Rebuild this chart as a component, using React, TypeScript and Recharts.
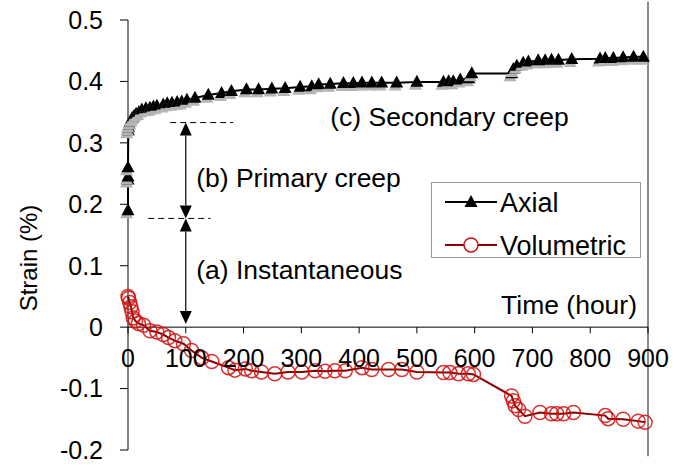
import React from "react";
import { LineChart, Line, XAxis, YAxis, ReferenceLine, ReferenceDot, Legend } from "recharts";

const FONT = '"Liberation Sans", Arial, sans-serif';

// axial strain (%) vs time (hour)
const axialTime = [
  0, 0, 0, 0, 0.5, 1, 2, 4, 7, 10, 14, 19, 24, 31, 38, 44, 50, 61, 68, 76, 85, 93,
  102, 116, 139, 162, 179, 205, 226, 249, 272, 298, 318, 330, 350, 373, 390, 405,
  422, 439, 465, 500, 546, 555, 563, 575, 590, 595, 664, 667, 673, 684, 693, 710,
  722, 733, 745, 768, 817, 826, 840, 857, 875, 892,
];
const axialStrain = [
  0.19, 0.24, 0.245, 0.26, 0.32, 0.325, 0.33, 0.335, 0.34, 0.343, 0.347, 0.35,
  0.354, 0.356, 0.357, 0.359, 0.36, 0.362, 0.364, 0.365, 0.366, 0.367, 0.37, 0.373,
  0.378, 0.381, 0.384, 0.387, 0.387, 0.388, 0.389, 0.391, 0.392, 0.395, 0.396,
  0.397, 0.397, 0.398, 0.398, 0.398, 0.398, 0.399, 0.399, 0.4, 0.4, 0.403, 0.405,
  0.413, 0.413, 0.42, 0.425, 0.43, 0.432, 0.434, 0.434, 0.435, 0.435, 0.436, 0.437,
  0.438, 0.438, 0.439, 0.44, 0.44,
];

// volumetric strain (%) vs time (hour)
const volTime = [
  0, 1, 3, 5, 7, 9, 13, 18, 27, 38, 50, 61, 70, 81, 96, 110, 128, 145, 174, 185,
  203, 214, 231, 254, 277, 301, 324, 341, 358, 376, 405, 422, 451, 474, 500, 546,
  557, 572, 589, 598, 664, 667, 670, 676, 687, 713, 733, 742, 754, 771, 826, 831,
  857, 883, 895,
];
const volStrain = [
  0.05, 0.047, 0.04, 0.033, 0.025, 0.015, 0.01, 0.006, 0.003, -0.006, -0.008,
  -0.012, -0.017, -0.022, -0.027, -0.038, -0.05, -0.056, -0.066, -0.07, -0.068,
  -0.071, -0.073, -0.076, -0.073, -0.073, -0.071, -0.072, -0.071, -0.071, -0.066,
  -0.069, -0.069, -0.069, -0.073, -0.074, -0.074, -0.076, -0.076, -0.077, -0.112,
  -0.12, -0.128, -0.134, -0.145, -0.139, -0.141, -0.141, -0.141, -0.139, -0.144,
  -0.149, -0.15, -0.153, -0.155,
];

const timeTicks = [0, 100, 200, 300, 400, 500, 600, 700, 800, 900];
const strainTicks = [-0.2, -0.1, 0, 0.1, 0.2, 0.3, 0.4, 0.5];

// annotation levels
const arrowTime = 100;
const primaryTop = 0.333;
const primaryBottom = 0.177;
const upperDash = [73, 182];
const lowerDash = [35, 143];

const axialData = axialTime.map((t, i) => ({ t, v: axialStrain[i] }));
const volData = volTime.map((t, i) => ({ t, v: volStrain[i] }));

function Triangle(p: any) {
  const { cx, cy } = p;
  if (cx == null || cy == null) return null;
  const w = 6.5, h = 12;
  const pts = (dx: number, dy: number) =>
    `${cx + dx},${cy - h * 0.6 + dy} ${cx - w + dx},${cy + h * 0.4 + dy} ${cx + w + dx},${cy + h * 0.4 + dy}`;
  return (
    <g>
      <polygon points={pts(-1.5, 3)} fill="#b4b4b4" />
      <polygon points={pts(0, 0)} fill="#000" />
    </g>
  );
}

function Circle(p: any) {
  const { cx, cy } = p;
  if (cx == null || cy == null) return null;
  return <circle cx={cx} cy={cy} r={7} fill="none" stroke="#d01010" strokeWidth={1.5} strokeOpacity={0.85} />;
}

function DoubleArrow(p: any) {
  const { x1, y1, y2 } = p;
  const top = Math.min(y1, y2);
  const bot = Math.max(y1, y2);
  const h = 13, w = 6;
  return (
    <g>
      <line x1={x1} y1={top + h} x2={x1} y2={bot - h} stroke="#000" strokeWidth={1.2} />
      <polygon points={`${x1},${top} ${x1 - w},${top + h} ${x1 + w},${top + h}`} fill="#000" />
      <polygon points={`${x1},${bot} ${x1 - w},${bot - h} ${x1 + w},${bot - h}`} fill="#000" />
    </g>
  );
}

function LegendBox() {
  return (
    <svg width={210} height={84} style={{ display: "block", fontFamily: FONT, overflow: "visible" }}>
      <rect x={0.5} y={0.5} width={209} height={75} fill="#fff" stroke="#999" />
      <line x1={14} y1={20} x2={66} y2={20} stroke="#000" strokeWidth={2} />
      <polygon points="40,13 33.5,25 46.5,25" fill="#000" />
      <text x={69} y={20} dy="0.355em" fontSize={27} fill="#000">Axial</text>
      <line x1={14} y1={63} x2={66} y2={63} stroke="#8b0000" strokeWidth={2} />
      <circle cx={40} cy={63} r={7} fill="#fff" stroke="#d01010" strokeWidth={1.5} />
      <text x={69} y={63} dy="0.355em" fontSize={27} fill="#000">Volumetric</text>
    </svg>
  );
}

function YTitle(p: any) {
  const vb = p.viewBox || {};
  const x = (vb.x ?? 0) + 28;
  const y = (vb.y ?? 0) + (vb.height ?? 0) / 2 + 23;
  return (
    <text x={x} y={y} transform={`rotate(-90 ${x} ${y})`} textAnchor="middle" dy="0.355em" fontSize={24} fill="#000">
      Strain (%)
    </text>
  );
}

const tickTxt = { fontSize: 25, fill: "#000" };
const noteTxt = { fontSize: 26.5, fill: "#000" };

export default function App() {
  return (
    <div style={{ position: "absolute", left: 0, top: 0, fontFamily: FONT, background: "#fff" }}>
      <LineChart width={684} height={468} margin={{ top: 20, right: 36, bottom: 18, left: 0 }}>
        <XAxis dataKey="t" type="number" domain={[0, 900]} ticks={timeTicks} hide allowDuplicatedCategory={false} />
        <YAxis
          type="number"
          domain={[-0.2, 0.5]}
          ticks={strainTicks}
          width={128}
          tickFormatter={(v: number) => (v === 0 ? "0" : v.toFixed(1))}
          tick={{ fontSize: 25, fill: "#000" }}
          tickSize={8}
          tickMargin={17}
          axisLine={{ stroke: "#000", strokeWidth: 1 }}
          tickLine={{ stroke: "#000", strokeWidth: 1 }}
          label={<YTitle />}
        />
        <ReferenceLine
          segment={[{ x: 900, y: -0.21 }, { x: 900, y: 0.53 }]}
          stroke="#8a8a8a"
          strokeWidth={2}
          ifOverflow="visible"
        />
        <ReferenceLine y={0} stroke="#000" strokeWidth={1} />
        {timeTicks.map((t) => (
          <ReferenceLine key={"tk" + t} segment={[{ x: t, y: 0 }, { x: t, y: -0.01 }]} stroke="#000" strokeWidth={1} />
        ))}
        {timeTicks.map((t) => (
          <ReferenceDot
            key={"tl" + t}
            x={t}
            y={0}
            r={0}
            fill="none"
            stroke="none"
            ifOverflow="visible"
            label={{ value: String(t), position: "bottom", offset: 22, ...tickTxt }}
          />
        ))}
        <ReferenceLine
          segment={[{ x: upperDash[0], y: primaryTop }, { x: upperDash[1], y: primaryTop }]}
          stroke="#000"
          strokeDasharray="6 4"
        />
        <ReferenceLine
          segment={[{ x: lowerDash[0], y: primaryBottom }, { x: lowerDash[1], y: primaryBottom }]}
          stroke="#000"
          strokeDasharray="6 4"
        />
        <ReferenceLine
          segment={[{ x: arrowTime, y: primaryTop }, { x: arrowTime, y: primaryBottom }]}
          shape={DoubleArrow}
        />
        <ReferenceLine
          segment={[{ x: arrowTime, y: primaryBottom }, { x: arrowTime, y: 0.005 }]}
          shape={DoubleArrow}
        />
        <ReferenceDot x={350} y={0.343} r={0} fill="none" stroke="none"
          label={{ value: "(c) Secondary creep", position: "right", offset: 0, ...noteTxt }} />
        <ReferenceDot x={118} y={0.244} r={0} fill="none" stroke="none"
          label={{ value: "(b) Primary creep", position: "right", offset: 0, ...noteTxt }} />
        <ReferenceDot x={118} y={0.093} r={0} fill="none" stroke="none"
          label={{ value: "(a) Instantaneous", position: "right", offset: 0, ...noteTxt }} />
        <ReferenceDot x={881} y={0.037} r={0} fill="none" stroke="none"
          label={{ value: "Time (hour)", position: "left", offset: 0, ...noteTxt }} />
        <Line
          data={volData}
          dataKey="v"
          name="Volumetric"
          stroke="#8b0000"
          strokeWidth={2}
          dot={Circle}
          activeDot={false}
          isAnimationActive={false}
        />
        <Line
          data={axialData}
          dataKey="v"
          name="Axial"
          stroke="#000"
          strokeWidth={2}
          dot={Triangle}
          activeDot={false}
          isAnimationActive={false}
        />
        <Legend
          layout="horizontal"
          verticalAlign="middle"
          align="center"
          width={210}
          height={84}
          wrapperStyle={{ left: 431, top: 182, width: 210, height: 84 }}
          content={() => <LegendBox />}
        />
      </LineChart>
    </div>
  );
}
